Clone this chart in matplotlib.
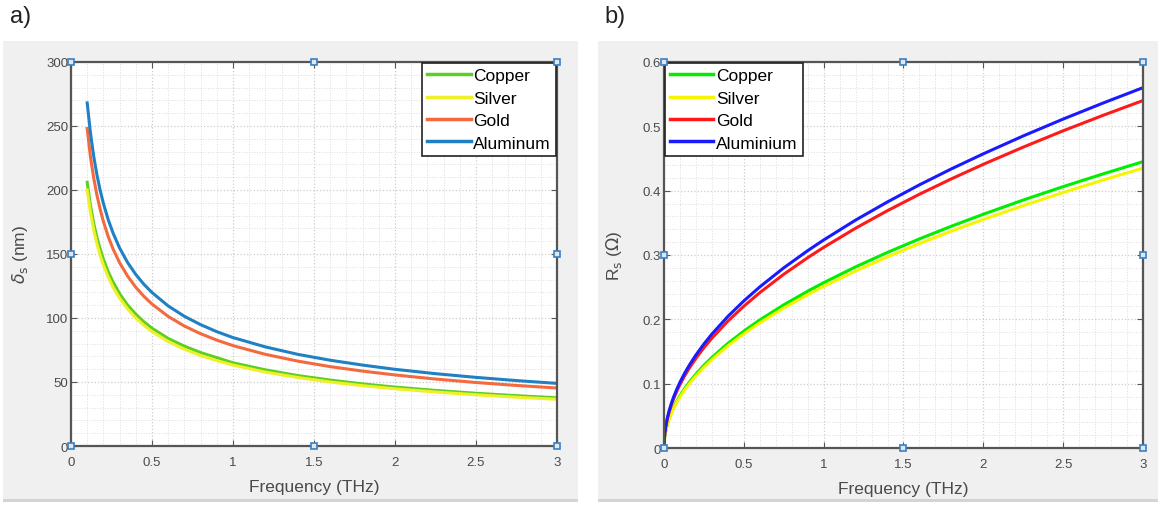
import matplotlib.pyplot as plt
from matplotlib.patches import Rectangle
from matplotlib.ticker import MultipleLocator, FormatStrFormatter

plt.rcParams['font.family'] = ['Liberation Sans', 'DejaVu Sans']

# a) skin depth (nm)
freq_a = [0.1, 0.12, 0.14, 0.16, 0.18, 0.2, 0.23, 0.26, 0.3, 0.35, 0.4, 0.45, 0.5, 0.6, 0.7,
          0.8, 0.9, 1.0, 1.2, 1.4, 1.6, 1.8, 2.0, 2.25, 2.5, 2.75, 3.0]
copper_a = [206, 188, 174, 163, 154, 146, 136, 128, 119, 110, 103, 97, 92, 84, 78,
            73, 69, 65, 59.5, 55, 51.5, 48.5, 46, 43.4, 41.2, 39.3, 37.6]
silver_a = [200, 182.6, 169, 158, 149, 141.4, 132, 124, 115.5, 107, 100, 94.3, 89.4, 81.6, 75.6,
            70.7, 66.7, 63.2, 57.7, 53.5, 50, 47.1, 44.7, 42.2, 40, 38.1, 36.5]
gold_a = [248, 226, 209.6, 196, 185, 175.4, 163.5, 153.8, 143.2, 132.6, 124, 116.9, 110.9, 101.2, 93.7,
          87.7, 82.7, 78.4, 71.6, 66.3, 62, 58.5, 55.5, 52.3, 49.6, 47.3, 45.3]
alum_a = [268, 244.7, 226.5, 211.9, 199.8, 189.5, 176.7, 166.2, 154.7, 143.2, 134, 126.3, 119.9, 109.4, 101.3,
          94.8, 89.3, 84.7, 77.4, 71.6, 67, 63.2, 59.9, 56.5, 53.6, 51.1, 48.9]

# b) surface resistance (ohm)
freq_b = [0, 0.002, 0.005, 0.01, 0.02, 0.03, 0.045, 0.06, 0.08, 0.1, 0.13, 0.16, 0.2, 0.25, 0.3,
          0.4, 0.5, 0.6, 0.75, 0.9, 1.0, 1.2, 1.4, 1.6, 1.8, 2.0, 2.25, 2.5, 2.75, 3.0]
copper_b = [0, .0115, .0182, .0257, .0363, .0445, .0545, .0629, .0727, .0813, .0926, .1028, .1149, .1285, .1407,
            .1625, .1816, .199, .2225, .2437, .2569, .2815, .304, .325, .3447, .3633, .3854, .4062, .426, .445]
silver_b = [0, .0112, .0177, .0251, .0355, .0435, .0533, .0615, .071, .0794, .0906, .1004, .1123, .1256, .1375,
            .1588, .1776, .1945, .2175, .2382, .2512, .2751, .2971, .3177, .337, .3552, .3767, .3971, .4165, .435]
gold_b = [0, .0139, .022, .0312, .0441, .054, .0662, .0764, .0882, .0986, .1124, .1247, .1394, .1559, .1707,
          .1972, .2204, .2415, .27, .2958, .3118, .3416, .3689, .3944, .4183, .4409, .4676, .493, .517, .54]
alum_b = [0, .0144, .0228, .0323, .0457, .056, .0686, .0792, .0914, .1023, .1166, .1293, .1446, .1617, .1771,
          .2045, .2286, .2504, .28, .3067, .3233, .3542, .3825, .409, .4338, .4572, .485, .5112, .5361, .56]

labels_a = ['Copper', 'Silver', 'Gold', 'Aluminum']
labels_b = ['Copper', 'Silver', 'Gold', 'Aluminium']
colors_a = ['#5ccf22', '#eef02a', '#f26a3e', '#2080c4']
colors_b = ['#00ee00', '#f5f500', '#ff1a1a', '#1a1aff']

fig = plt.figure(figsize=(11.58, 5.06), dpi=100)
fig.patch.set_facecolor('white')

# grey figure panels behind each plot
for x0, w in [(0.0026, 0.4965), (0.5164, 0.4836)]:
    fig.patches.append(Rectangle((x0, 0.012), w, 0.905, transform=fig.transFigure,
                                 facecolor='#f0f0f0', edgecolor='none', zorder=-10))
    fig.patches.append(Rectangle((x0, 0.006), w, 0.006, transform=fig.transFigure,
                                 facecolor='#d4d4d4', edgecolor='none', zorder=-10))

ax1 = fig.add_axes([0.0613, 0.1166, 0.4197, 0.759])
ax2 = fig.add_axes([0.5734, 0.1126, 0.4136, 0.763])


def style(ax, ymax, ymajor, yminor, handle_y, ylab_x):
    ax.set_facecolor('white')
    ax.set_xlim(0, 3)
    ax.set_ylim(0, ymax)
    ax.xaxis.set_major_locator(MultipleLocator(0.5))
    ax.xaxis.set_minor_locator(MultipleLocator(0.1))
    ax.yaxis.set_major_locator(MultipleLocator(ymajor))
    ax.yaxis.set_minor_locator(MultipleLocator(yminor))
    ax.xaxis.set_major_formatter(FormatStrFormatter('%g'))
    ax.yaxis.set_major_formatter(FormatStrFormatter('%g'))
    ax.grid(which='major', color='#cccccc', linestyle=':', linewidth=0.9)
    ax.grid(which='minor', color='#dddddd', linestyle=':', linewidth=0.7)
    ax.set_axisbelow(True)
    for s in ax.spines.values():
        s.set_color('#555555')
        s.set_linewidth(1.6)
    ax.tick_params(which='both', direction='in', top=True, right=True, colors='#555555',
                   labelcolor='#4a4a4a', labelsize=9.5)
    ax.tick_params(which='minor', length=0)
    ax.tick_params(which='major', length=4)
    ax.tick_params(axis='y', pad=2)
    ax.tick_params(axis='x', pad=7)
    ax.set_xlabel('Frequency (THz)', fontsize=12.5, color='#4a4a4a', labelpad=8)
    ax.yaxis.set_label_coords(ylab_x, 0.5)
    # edit-mode selection handles
    hx = [0, 1.5, 3, 0, 3, 0, 1.5, 3]
    hy = [0, 0, 0, handle_y, handle_y, ymax, ymax, ymax]
    ax.plot(hx, hy, 's', markersize=5, markerfacecolor='#dbe8f5', markeredgecolor='#3d7fc0',
            markeredgewidth=1.2, linestyle='none', clip_on=False, zorder=10)


def legend(ax, loc):
    leg = ax.legend(loc=loc, fontsize=12.5, handlelength=2.5, borderaxespad=0.05,
                    fancybox=False, framealpha=1, edgecolor='#222222', borderpad=0.3,
                    labelspacing=0.42, handletextpad=0.15)
    leg.get_frame().set_linewidth(1.2)
    for line in leg.get_lines():
        line.set_linewidth(2.5)


for y, c, lab in zip([copper_a, silver_a, gold_a, alum_a], colors_a, labels_a):
    ax1.plot(freq_a, y, color=c, linewidth=2.2, label=lab)
ax1.set_ylabel(r'$\delta_{\rm s}$ (nm)', fontsize=12.5, color='#4a4a4a')
style(ax1, 300, 50, 10, 150, -0.084)
legend(ax1, 'upper right')

for y, c, lab in zip([copper_b, silver_b, gold_b, alum_b], colors_b, labels_b):
    ax2.plot(freq_b, y, color=c, linewidth=2.2, label=lab)
ax2.set_ylabel(r'R$_{\rm s}$ ($\Omega$)', fontsize=12.5, color='#4a4a4a')
style(ax2, 0.6, 0.1, 0.02, 0.3, -0.083)
legend(ax2, 'upper left')

fig.text(0.009, 0.966, 'a)', fontsize=17, color='#222222', va='center')
fig.text(0.522, 0.966, 'b)', fontsize=17, color='#222222', va='center')

fig.savefig('out.png', dpi=100)
